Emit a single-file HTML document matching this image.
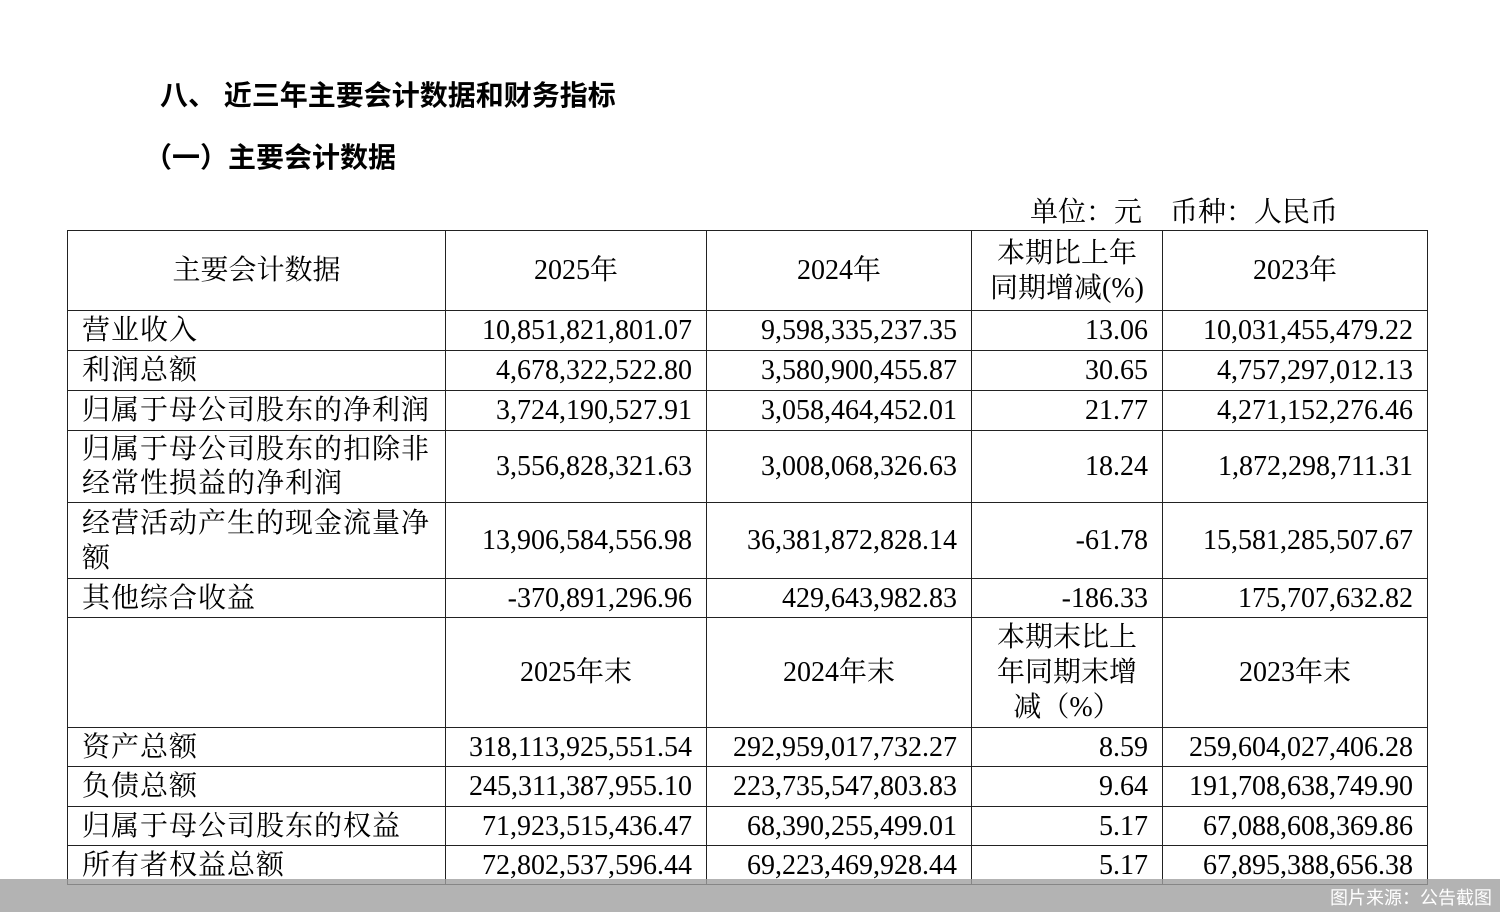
<!DOCTYPE html>
<html><head><meta charset="utf-8"><style>
body{margin:0;width:1500px;height:912px;background:#fff;position:relative;overflow:hidden;font-family:"Liberation Serif","Noto Serif CJK SC",serif;color:#000}
.t{position:absolute;white-space:nowrap;line-height:1}
.h{font-family:"Liberation Sans","Noto Sans CJK SC",sans-serif;font-weight:bold;font-size:28px}
table{position:absolute;left:67px;top:230px;border-collapse:collapse;font-size:28px;table-layout:fixed}
td{border:1.5px solid #222;padding:0 14px;line-height:1.25;overflow:hidden}
td.l{letter-spacing:1px}
td.c{text-align:center;padding:0 4px}
td.r{text-align:right}
.bar{position:absolute;left:0;top:879px;width:1500px;height:33px;background:rgba(160,160,160,.8)}
.src{position:absolute;right:8px;top:884px;color:#fff;font-family:"Liberation Sans","Noto Sans CJK SC",sans-serif;font-size:18px}
</style></head><body>
<div class="t h" style="left:160px;top:82px">八、 近三年主要会计数据和财务指标</div>
<div class="t h" style="left:144px;top:144px">（一）主要会计数据</div>
<div class="t" style="left:1030px;top:199px;font-size:28px">单位：元　币种：人民币</div>
<table>
<colgroup><col style="width:378px"><col style="width:261px"><col style="width:265px"><col style="width:191px"><col style="width:265px"></colgroup>
<tr style="height:80px"><td class="c">主要会计数据</td><td class="c">2025年</td><td class="c">2024年</td><td class="c">本期比上年<br>同期增减(%)</td><td class="c">2023年</td></tr>
<tr style="height:40px"><td class="l">营业收入</td><td class="r">10,851,821,801.07</td><td class="r">9,598,335,237.35</td><td class="r">13.06</td><td class="r">10,031,455,479.22</td></tr>
<tr style="height:40px"><td class="l">利润总额</td><td class="r">4,678,322,522.80</td><td class="r">3,580,900,455.87</td><td class="r">30.65</td><td class="r">4,757,297,012.13</td></tr>
<tr style="height:40px"><td class="l">归属于母公司股东的净利润</td><td class="r">3,724,190,527.91</td><td class="r">3,058,464,452.01</td><td class="r">21.77</td><td class="r">4,271,152,276.46</td></tr>
<tr style="height:72px"><td class="l" style="line-height:1.2">归属于母公司股东的扣除非<br>经常性损益的净利润</td><td class="r">3,556,828,321.63</td><td class="r">3,008,068,326.63</td><td class="r">18.24</td><td class="r">1,872,298,711.31</td></tr>
<tr style="height:76px"><td class="l" style="line-height:1.25">经营活动产生的现金流量净<br>额</td><td class="r">13,906,584,556.98</td><td class="r">36,381,872,828.14</td><td class="r">-61.78</td><td class="r">15,581,285,507.67</td></tr>
<tr style="height:39px"><td class="l">其他综合收益</td><td class="r">-370,891,296.96</td><td class="r">429,643,982.83</td><td class="r">-186.33</td><td class="r">175,707,632.82</td></tr>
<tr style="height:110px"><td></td><td class="c">2025年末</td><td class="c">2024年末</td><td class="c" style="line-height:1.25">本期末比上<br>年同期末增<br>减（%）</td><td class="c">2023年末</td></tr>
<tr style="height:39px"><td class="l">资产总额</td><td class="r">318,113,925,551.54</td><td class="r">292,959,017,732.27</td><td class="r">8.59</td><td class="r">259,604,027,406.28</td></tr>
<tr style="height:40px"><td class="l">负债总额</td><td class="r">245,311,387,955.10</td><td class="r">223,735,547,803.83</td><td class="r">9.64</td><td class="r">191,708,638,749.90</td></tr>
<tr style="height:39px"><td class="l">归属于母公司股东的权益</td><td class="r">71,923,515,436.47</td><td class="r">68,390,255,499.01</td><td class="r">5.17</td><td class="r">67,088,608,369.86</td></tr>
<tr style="height:39px"><td class="l">所有者权益总额</td><td class="r">72,802,537,596.44</td><td class="r">69,223,469,928.44</td><td class="r">5.17</td><td class="r">67,895,388,656.38</td></tr>
</table>
<div class="bar"></div>
<div class="src">图片来源：公告截图</div>
</body></html>
